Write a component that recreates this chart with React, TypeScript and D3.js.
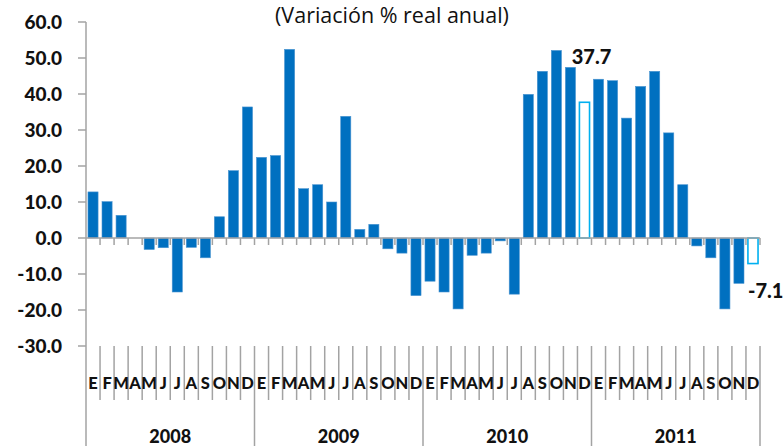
import React from "react";
import * as d3 from "d3";

const years = ["2008", "2009", "2010", "2011"];
const months = ["E", "F", "M", "A", "M", "J", "J", "A", "S", "O", "N", "D"];

const values2008 = [12.8, 10.1, 6.3, 0, -3.2, -2.7, -15.0, -2.6, -5.5, 5.9, 18.7, 36.4];
const values2009 = [22.4, 22.9, 52.4, 13.7, 14.8, 10.0, 33.8, 2.4, 3.8, -3.0, -4.2, -16.0];
const values2010 = [-12.0, -15.0, -19.7, -4.8, -4.2, -0.8, -15.6, 39.9, 46.3, 52.1, 47.4, 37.7];
const values2011 = [44.1, 43.7, 33.3, 42.1, 46.3, 29.2, 14.8, -2.2, -5.5, -19.7, -12.6, -7.1];

// bars drawn hollow (preliminary figures)
const hollow = ["2010-11", "2011-11"];

const yTicks = [60, 50, 40, 30, 20, 10, 0, -10, -20, -30];

const width = 784, height = 446;
const margin = { top: 22, right: 24, bottom: 100, left: 86 };
const font = "Lato, 'Open Sans', sans-serif";
const axisColor = "#a3a3a3";

export default function App() {
  const series = [values2008, values2009, values2010, values2011];
  const data = series.flatMap((vals, yi) =>
    vals.map((v, mi) => ({ key: `${years[yi]}-${mi}`, year: years[yi], month: months[mi], value: v }))
  );

  const x = d3.scaleBand<string>()
    .domain(data.map(d => d.key))
    .range([margin.left, width - margin.right])
    .paddingInner(0.28)
    .paddingOuter(0.14);

  const y = d3.scaleLinear()
    .domain([-30, 60])
    .range([height - margin.bottom, margin.top]);

  const step = x.step();
  const x0 = margin.left;
  const bottomY = y(-30);
  const zeroY = y(0);
  const boundaries = d3.range(data.length + 1).map(i => x0 + i * step);

  const first = data[data.length - 13];
  const last = data[data.length - 1];

  return (
    <svg width={width} height={height} style={{ position: "absolute", left: 0, top: 0, background: "#fff" }}>
      <text x={392} y={23} textAnchor="middle" fontFamily="'Open Sans', sans-serif" fontSize={21.5} fill="#111">
        (Variación % real anual)
      </text>

      {/* y axis */}
      <line x1={x0} x2={x0} y1={y(60)} y2={bottomY} stroke={axisColor} strokeWidth={1.5} />
      {yTicks.map(t => (
        <g key={t}>
          <line x1={x0 - 8} x2={x0} y1={y(t)} y2={y(t)} stroke={axisColor} strokeWidth={1.5} />
          <text x={62} y={y(t)} dy="0.36em" textAnchor="end" fontFamily={font} fontWeight="900" fontSize={19} fill="#111">
            {t.toFixed(1)}
          </text>
        </g>
      ))}

      {/* bars */}
      {data.map(d => {
        const isHollow = hollow.includes(d.key);
        const top = Math.min(y(d.value), zeroY);
        const h = Math.abs(y(d.value) - zeroY);
        if (h === 0) return null;
        return (
          <rect key={d.key} x={x(d.key)} y={top} width={x.bandwidth()} height={h}
            fill={isHollow ? "#fff" : "#0070C0"}
            stroke={isHollow ? "#00B0F0" : "#4a94d0"}
            strokeWidth={isHollow ? 1.6 : 0.6} />
        );
      })}

      {/* zero line with category ticks */}
      <line x1={x0} x2={boundaries[boundaries.length - 1]} y1={zeroY} y2={zeroY} stroke={axisColor} strokeWidth={1.5} />
      {boundaries.slice(1).map((bx, i) => (
        <line key={`zt${i}`} x1={bx} x2={bx} y1={zeroY} y2={zeroY + 7} stroke={axisColor} strokeWidth={1.5} />
      ))}

      {/* category separators */}
      {boundaries.map((bx, i) => (
        <line key={`sep${i}`} x1={bx} x2={bx} y1={bottomY} y2={i % 12 === 0 ? height : 400}
          stroke={axisColor} strokeWidth={1.5} />
      ))}

      {data.map(d => (
        <text key={`m${d.key}`} x={(x(d.key) as number) + x.bandwidth() / 2} y={389} textAnchor="middle"
          fontFamily={font} fontWeight="900" fontSize={16.5} fill="#111">
          {d.month}
        </text>
      ))}

      {years.map((yr, i) => (
        <text key={yr} x={x0 + (i * 12 + 6) * step} y={443} textAnchor="middle"
          fontFamily={font} fontWeight="900" fontSize={18} fill="#111">
          {yr}
        </text>
      ))}

      {/* value labels */}
      <text x={(x(first.key) as number) + x.bandwidth() / 2 + 7} y={y(first.value) - 38} textAnchor="middle"
        fontFamily={font} fontWeight="900" fontSize={20} fill="#111">
        {first.value.toFixed(1)}
      </text>
      <text x={(x(last.key) as number) + x.bandwidth() / 2 - 5} y={y(last.value) + 34} textAnchor="start"
        fontFamily={font} fontWeight="900" fontSize={20} fill="#111">
        {last.value.toFixed(1)}
      </text>
    </svg>
  );
}
